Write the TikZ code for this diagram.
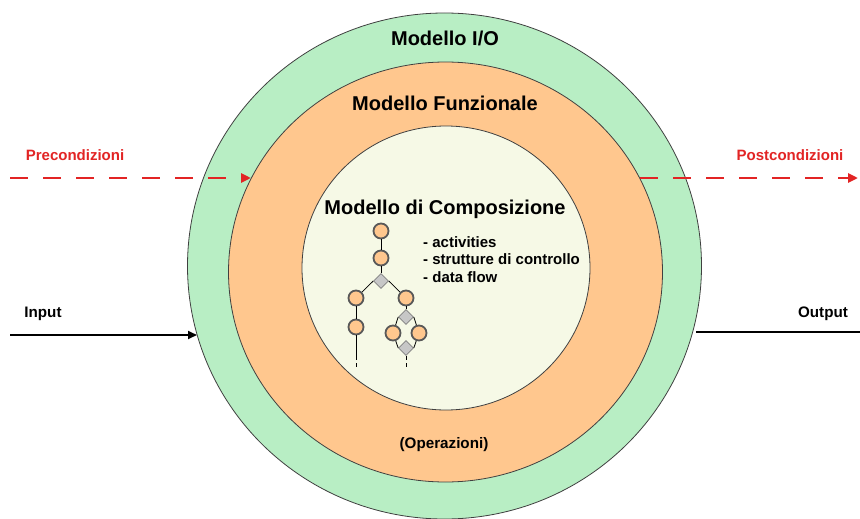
\documentclass[tikz,border=0pt]{standalone}
\usepackage{fontspec}
\setmainfont{Liberation Sans}
\usetikzlibrary{shapes.geometric,arrows.meta}
\definecolor{iogreen}{HTML}{B8EEC4}
\definecolor{funcorange}{HTML}{FFC78E}
\definecolor{compcream}{HTML}{F6F9E6}
\definecolor{prered}{HTML}{E22424}
\begin{document}
\begin{tikzpicture}[x=1pt,y=-1pt,
  ring/.style={ellipse, draw=black!75, line width=0.8pt, inner sep=0pt},
  title/.style={font=\fontsize{20}{23}\selectfont\bfseries, inner sep=0pt},
  smalltitle/.style={font=\fontsize{15.2}{18}\selectfont\bfseries, inner sep=0pt},
  item/.style={font=\fontsize{15}{18}\selectfont\bfseries, inner sep=0pt, anchor=west},
  redlabel/.style={font=\fontsize{15}{18}\selectfont\bfseries, text=prered, inner sep=0pt},
  blacklabel/.style={font=\fontsize{15.2}{18}\selectfont\bfseries, inner sep=0pt},
  act/.style={circle, fill=funcorange, draw=black!65, line width=1.8pt, minimum size=15pt, inner sep=0pt},
  gate/.style={diamond, fill=black!22, draw=black!50, line width=0.6pt, minimum size=15pt, inner sep=0pt},
  flow/.style={black, line width=0.8pt},
  cond/.style={prered, line width=2.8pt, dash pattern=on 18pt off 15pt, -{Triangle[length=10pt,width=9pt]}},
  data/.style={black, line width=2pt}
]
\useasboundingbox (0,0) rectangle (860,519);
\fill[white] (0,0) rectangle (860,519);

% concentric models
\node[ring, fill=iogreen, minimum width=514pt, minimum height=506pt] (outer) at (444.5,266) {};
\node[ring, fill=funcorange, minimum width=434pt, minimum height=420pt] (mid) at (445.5,272) {};
\node[ring, fill=compcream, minimum width=288pt, minimum height=284pt] (inner) at (446,268) {};

% titles
\node[title] (tio) at (445,38) {Modello I/O};
\node[title] (tfun) at (445,103) {Modello Funzionale};
\node[title] (tcomp) at (445,209) {Modello di Composizione};
\node[smalltitle] (tops) at (444,445) {(Operazioni)};

% bullet list
\node[item] (b1) at (423,242) {- activities};
\node[item] (b2) at (423,259) {- strutture di controllo};
\node[item] (b3) at (423,277) {- data flow};

% side labels
\node[redlabel] (pre) at (75,155) {Precondizioni};
\node[redlabel] (post) at (790,155) {Postcondizioni};
\node[blacklabel] (lin) at (43,314) {Input};
\node[blacklabel] (lout) at (823,314) {Output};

% connectors
\coordinate (prestart) at (10,178);
\coordinate (preend) at (251,178);
\coordinate (poststart) at (640,178);
\coordinate (postend) at (858,178);
\coordinate (instart) at (10,335);
\coordinate (inend) at (197,335);
\coordinate (outstart) at (696,332);
\coordinate (outend) at (860,332);
\draw[cond] (prestart) -- (preend);
\draw[cond] (poststart) -- (postend);
\draw[data, -{Triangle[length=9pt,width=8pt]}] (instart) -- (inend);
\draw[data] (outstart) -- (outend);

% workflow
\node[act] (a1) at (381,231) {};
\node[act] (a2) at (381,258) {};
\node[gate] (g1) at (381,281) {};
\node[act] (a3) at (356,298) {};
\node[act] (a4) at (406,298) {};
\node[act] (a5) at (356,327) {};
\node[gate] (g2) at (406,317) {};
\node[act] (a6) at (393,333) {};
\node[act] (a7) at (419,333) {};
\node[gate] (g3) at (406,348) {};
\coordinate (e1) at (356,360);
\coordinate (e1b) at (356,363);
\coordinate (e1c) at (356,367);
\coordinate (e2) at (406,360);
\coordinate (e2b) at (406,363);
\coordinate (e2c) at (406,367);

\draw[flow] (a1) -- (a2);
\draw[flow] (a2) -- (g1);
\draw[flow] (g1.west) -- (a3);
\draw[flow] (g1.east) -- (a4);
\draw[flow] (a3) -- (a5);
\draw[flow] (a5) -- (e1);
\draw[flow] (e1b) -- (e1c);
\draw[flow] (a4) -- (g2);
\draw[flow] (g2.west) -- (a6);
\draw[flow] (g2.east) -- (a7);
\draw[flow] (a6) -- (g3.west);
\draw[flow] (a7) -- (g3.east);
\draw[flow] (g3) -- (e2);
\draw[flow] (e2b) -- (e2c);
\end{tikzpicture}
\end{document}
